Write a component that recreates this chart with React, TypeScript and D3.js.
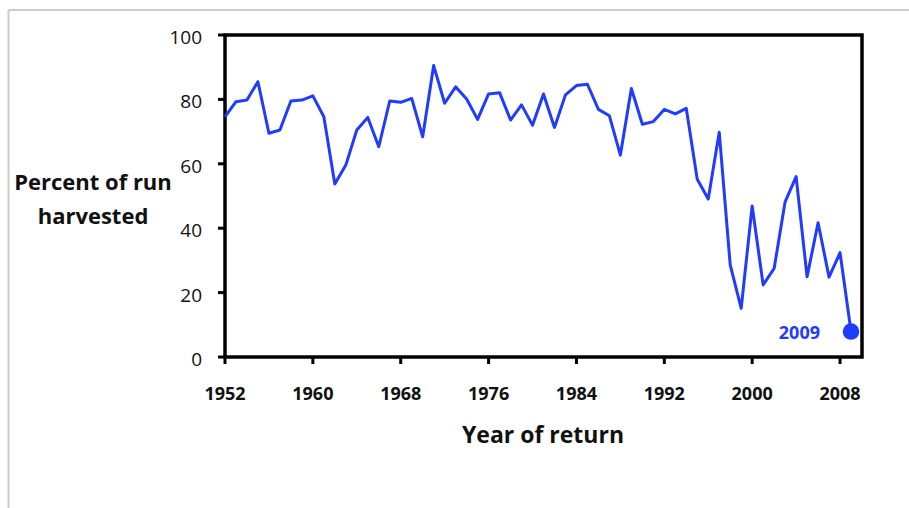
import React from "react";
import * as d3 from "d3";

const years: number[] = d3.range(1952, 2010);
const percentHarvested: number[] = [
  74.6, 79.3, 79.8, 85.5, 69.5, 70.5, 79.5, 79.8, 81.1, 74.6,
  53.7, 59.6, 70.5, 74.4, 65.3, 79.5, 79.1, 80.3, 68.4, 90.5,
  78.8, 83.9, 80.1, 73.8, 81.7, 82.1, 73.6, 78.3, 72.0, 81.7,
  71.3, 81.4, 84.3, 84.7, 76.9, 74.9, 62.7, 83.4, 72.3, 73.1,
  76.9, 75.5, 77.2, 55.2, 49.1, 69.8, 28.6, 15.1, 46.9, 22.4,
  27.5, 48.2, 56.0, 24.9, 41.7, 24.8, 32.4, 7.9,
];
const xTicks: number[] = [1952, 1960, 1968, 1976, 1984, 1992, 2000, 2008];
const yTicks: number[] = [0, 20, 40, 60, 80, 100];
const highlightYear = 2009;
const yTitleLines: string[] = ["Percent of run", "harvested"];
const xTitle = "Year of return";

const W = 909;
const H = 508;
const BLUE = "#1f3cff";
const FONT = "'Open Sans', 'DejaVu Sans', sans-serif";

export default function App() {
  const x = d3.scaleLinear().domain([1952, 2010]).range([225, 862]);
  const y = d3.scaleLinear().domain([0, 100]).range([357, 35]);
  const data = years.map((yr, i) => ({ yr, v: percentHarvested[i] }));
  const line = d3
    .line<{ yr: number; v: number }>()
    .x((d) => x(d.yr))
    .y((d) => y(d.v));
  const last = data[data.length - 1];

  return (
    <div style={{ position: "fixed", left: 0, top: 0 }}>
      <svg width={W} height={H} style={{ display: "block", background: "#fff" }}>
        {/* page border */}
        <line x1={8.5} y1={10} x2={W} y2={10} stroke="#cccccc" strokeWidth={2} />
        <line x1={8.5} y1={10} x2={8.5} y2={H} stroke="#cccccc" strokeWidth={2} />

        {/* y ticks */}
        {yTicks.map((t) => (
          <g key={"y" + t}>
            <line x1={218} x2={225} y1={y(t)} y2={y(t)} stroke="#000" strokeWidth={3} />
            <text
              x={202}
              y={y(t) + 4}
              textAnchor="end"
              dominantBaseline="middle"
              fontFamily={FONT}
              fontSize={19}
              fill="#111"
            >
              {t}
            </text>
          </g>
        ))}

        {/* x ticks */}
        {xTicks.map((t) => (
          <g key={"x" + t}>
            <line x1={x(t)} x2={x(t)} y1={357} y2={364} stroke="#000" strokeWidth={3} />
            <text
              x={x(t)}
              y={400}
              textAnchor="middle"
              fontFamily={FONT}
              fontSize={18}
              fontWeight="bold"
              fill="#111"
            >
              {t}
            </text>
          </g>
        ))}

        {/* plot frame */}
        <rect
          x={x(1952)}
          y={y(100)}
          width={x(2010) - x(1952)}
          height={y(0) - y(100)}
          fill="none"
          stroke="#000"
          strokeWidth={3.5}
        />

        {/* data line */}
        <path d={line(data) || ""} fill="none" stroke={BLUE} strokeWidth={3} strokeLinejoin="round" />
        <circle cx={x(last.yr)} cy={y(last.v)} r={8.3} fill={BLUE} />
        <text
          x={820}
          y={339}
          textAnchor="end"
          fontFamily={FONT}
          fontSize={18}
          fontWeight="bold"
          fill={BLUE}
        >
          {highlightYear}
        </text>

        {/* titles */}
        {yTitleLines.map((s, i) => (
          <text
            key={s}
            x={93}
            y={190 + i * 34}
            textAnchor="middle"
            fontFamily={FONT}
            fontSize={22}
            fontWeight="bold"
            fill="#111"
          >
            {s}
          </text>
        ))}
        <text
          x={543}
          y={443}
          textAnchor="middle"
          fontFamily={FONT}
          fontSize={23}
          fontWeight="bold"
          fill="#111"
        >
          {xTitle}
        </text>
      </svg>
    </div>
  );
}
